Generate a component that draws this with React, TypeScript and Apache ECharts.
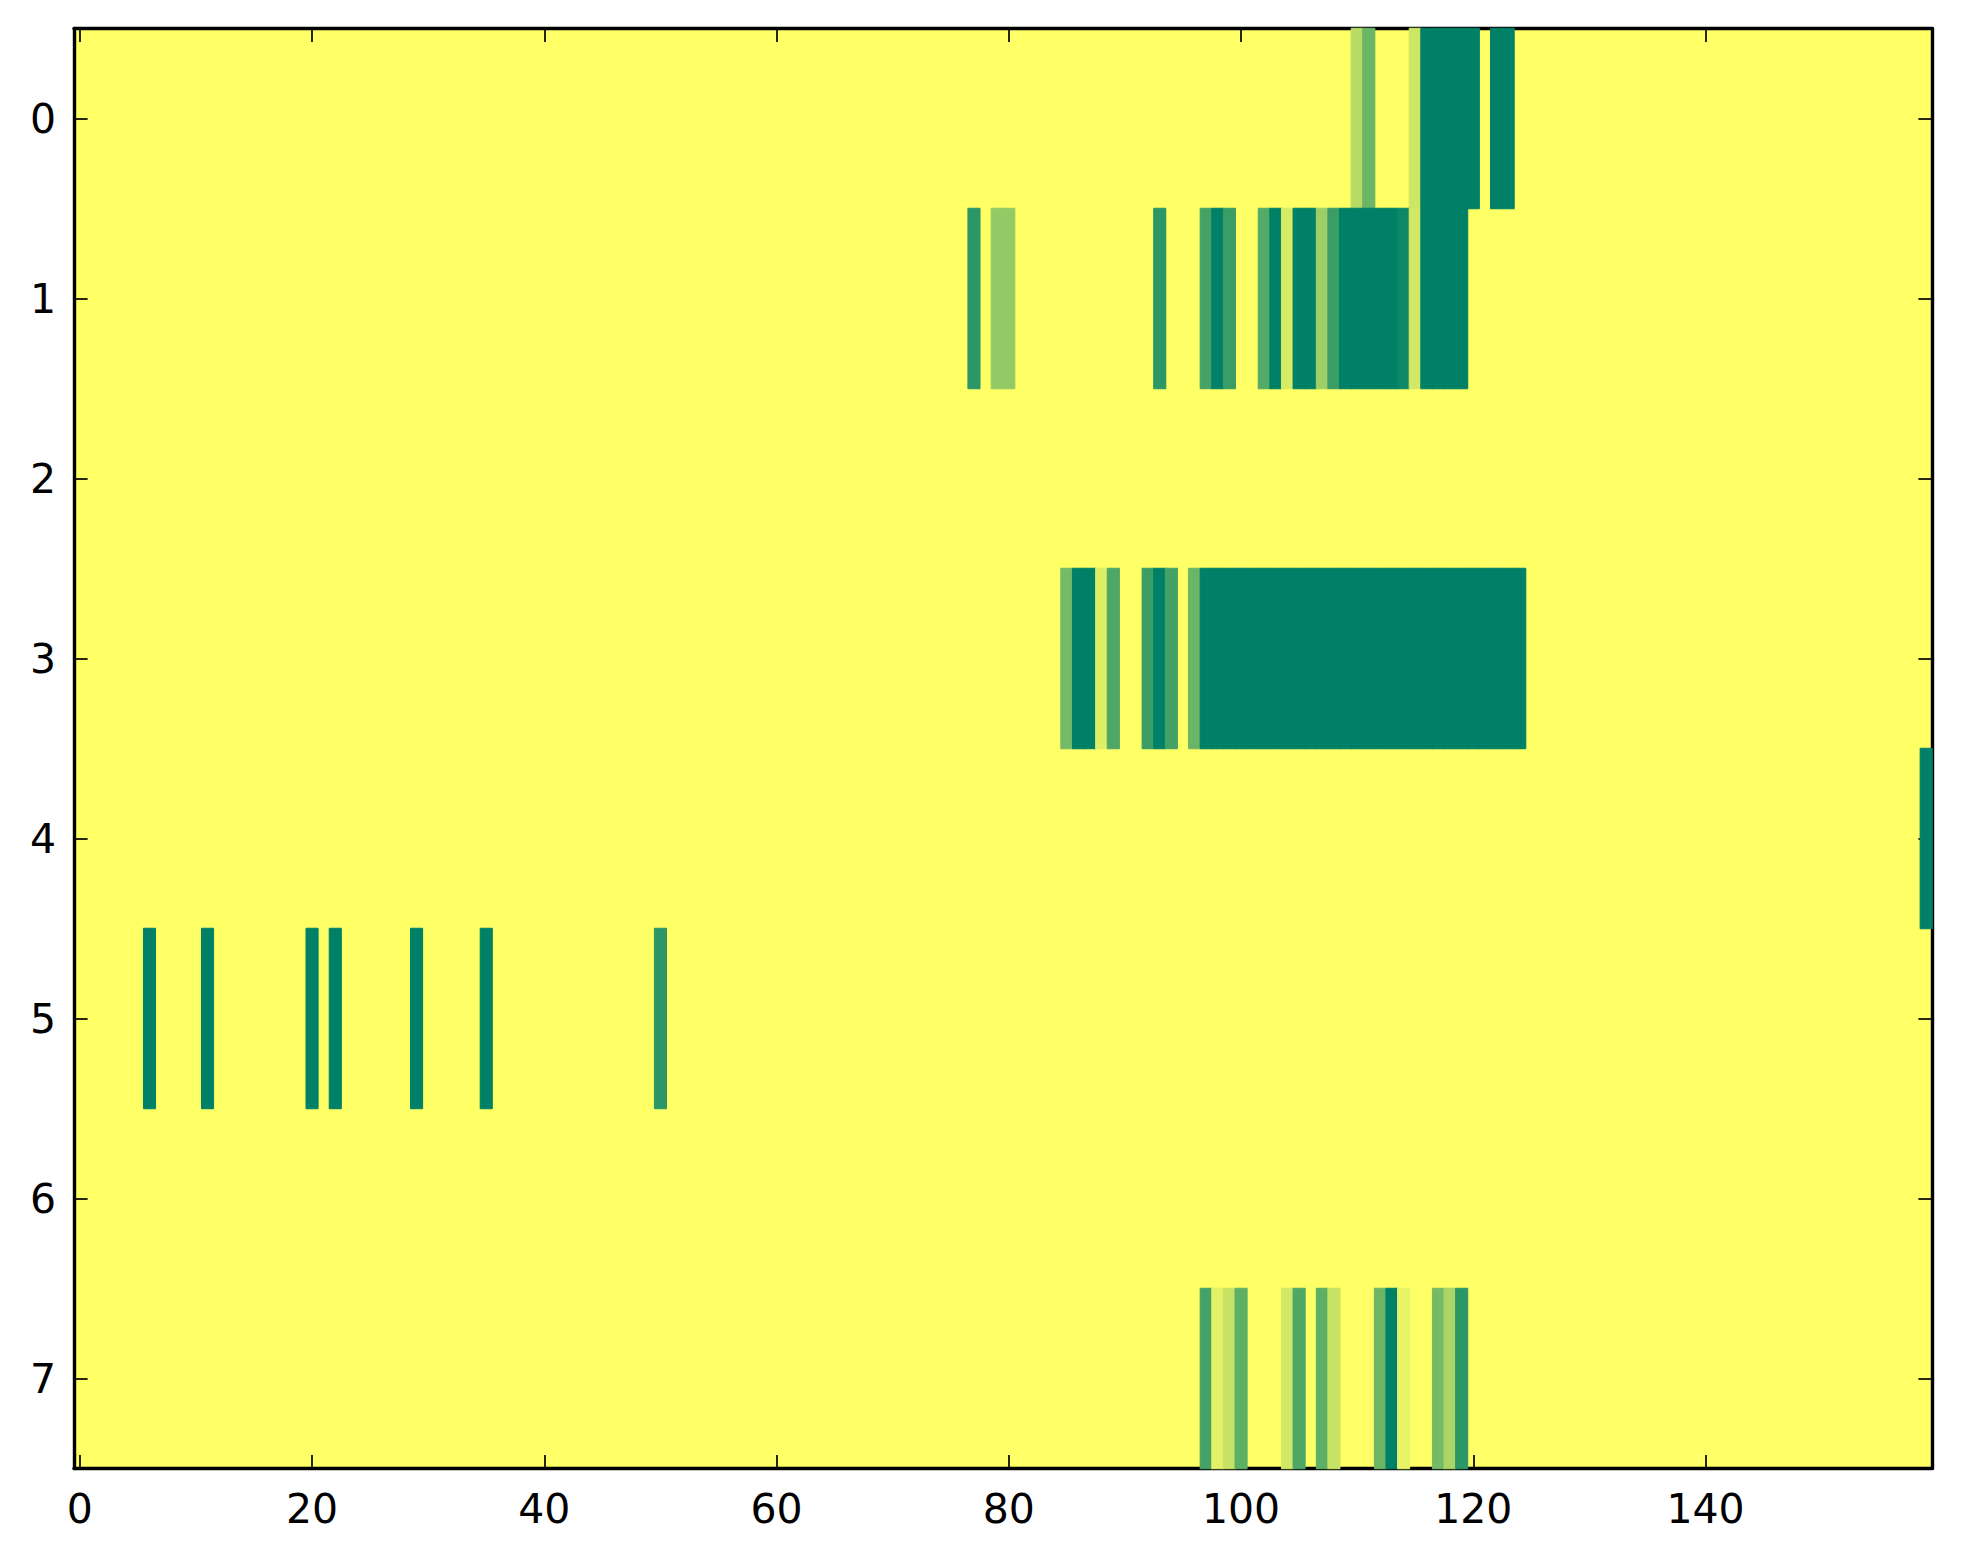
import { useEffect, useRef } from "react";
import * as echarts from "echarts";

// column and row categories of the image
const columns = Array.from({ length: 160 }, (_, i) => String(i));
const rowLabels = ["0", "1", "2", "3", "4", "5", "6", "7"];
const xTicks = [0, 20, 40, 60, 80, 100, 120, 140];

// non-zero cells per row as [column, value]; everything else is 0
const row0: [number, number][] = [
  [110, 0.28], [111, 0.58], [115, 0.2],
  [116, 1], [117, 1], [118, 1], [119, 1], [120, 1],
  [122, 1], [123, 1],
];
const row1: [number, number][] = [
  [77, 0.83], [79, 0.42], [80, 0.42], [93, 0.83],
  [97, 0.73], [98, 1], [99, 0.77], [102, 0.67], [103, 1], [104, 0.16],
  [105, 1], [106, 1], [107, 0.38], [108, 0.77],
  [109, 1], [110, 1], [111, 1], [112, 1], [113, 1], [114, 0.945], [115, 0.18],
  [116, 1], [117, 1], [118, 1], [119, 1],
];
const row2: [number, number][] = [];
const row3: [number, number][] = [
  [85, 0.54], [86, 1], [87, 1], [88, 0.13], [89, 0.69],
  [92, 0.77], [93, 1], [94, 0.73], [96, 0.58],
  [97, 1], [98, 1], [99, 1], [100, 1], [101, 1], [102, 1], [103, 1],
  [104, 1], [105, 1], [106, 1], [107, 1], [108, 1], [109, 1], [110, 1],
  [111, 1], [112, 1], [113, 1], [114, 1], [115, 1], [116, 1], [117, 1],
  [118, 1], [119, 1], [120, 1], [121, 1], [122, 1], [123, 1], [124, 1],
];
const row4: [number, number][] = [[159, 1]];
const row5: [number, number][] = [
  [6, 1], [11, 1], [20, 1], [22, 1], [29, 1], [35, 1], [50, 0.83],
];
const row6: [number, number][] = [];
const row7: [number, number][] = [
  [97, 0.73], [98, 0.11], [99, 0.22], [100, 0.63],
  [104, 0.18], [105, 0.69], [107, 0.63], [108, 0.22],
  [112, 0.58], [113, 1], [114, 0.09],
  [117, 0.54], [118, 0.33], [119, 0.83],
];

const rows = [row0, row1, row2, row3, row4, row5, row6, row7];

// summer_r: yellow at 0, green at 1
const ramp = ["#ffff66", "#008066"];

const FONT = "DejaVu Sans";
const tickStyle = { color: "#000", width: 1.7 };
const lineStyle = { color: "#000", width: 3.4 };

function buildOption(): echarts.EChartsOption {
  const data: any[] = [];
  rows.forEach((cells, y) =>
    cells.forEach(([x, v]) =>
      // a hairline border in the cell's own colour hides seams between cells
      data.push({
        value: [x, y, v],
        itemStyle: { borderColor: echarts.color.lerp(v, ramp), borderWidth: 1 },
      })
    )
  );

  const showTick = (idx: number) => xTicks.includes(idx);

  return {
    animation: false,
    backgroundColor: "#fff",
    grid: {
      left: 66,
      top: 20.5,
      width: 1858,
      height: 1440,
      show: true,
      backgroundColor: ramp[0],
      borderWidth: 0,
    },
    visualMap: {
      show: false,
      min: 0,
      max: 1,
      inRange: { color: ramp },
    },
    xAxis: [
      {
        type: "category",
        data: columns,
        position: "bottom",
        axisLine: { show: true, lineStyle },
        axisTick: { show: true, inside: true, alignWithLabel: true, interval: showTick, length: 13.6, lineStyle: tickStyle },
        axisLabel: { interval: showTick, color: "#000", fontFamily: FONT, fontSize: 41, margin: 20 },
        splitLine: { show: false },
      },
      {
        type: "category",
        data: columns,
        position: "top",
        axisLine: { show: true, lineStyle },
        axisTick: { show: true, inside: true, alignWithLabel: true, interval: showTick, length: 13.6, lineStyle: tickStyle },
        axisLabel: { show: false },
        splitLine: { show: false },
      },
    ],
    yAxis: [
      {
        type: "category",
        data: rowLabels,
        inverse: true,
        position: "left",
        axisLine: { show: true, lineStyle },
        axisTick: { show: true, inside: true, alignWithLabel: true, interval: 0, length: 13.6, lineStyle: tickStyle },
        axisLabel: { interval: 0, color: "#000", fontFamily: FONT, fontSize: 41, margin: 18 },
        splitLine: { show: false },
      },
      {
        type: "category",
        data: rowLabels,
        inverse: true,
        position: "right",
        axisLine: { show: true, lineStyle },
        axisTick: { show: true, inside: true, alignWithLabel: true, interval: 0, length: 13.6, lineStyle: tickStyle },
        axisLabel: { show: false },
        splitLine: { show: false },
      },
    ],
    series: [
      {
        type: "heatmap",
        xAxisIndex: 0,
        yAxisIndex: 0,
        data,
        progressive: 0,
        emphasis: { disabled: true },
        z: 1,
      },
    ],
  };
}

export default function App() {
  const ref = useRef<HTMLDivElement>(null);

  useEffect(() => {
    if (!ref.current) return;
    const chart = echarts.init(ref.current, undefined, { renderer: "svg" });
    chart.setOption(buildOption());
    return () => chart.dispose();
  }, []);

  return <div ref={ref} style={{ width: 1947, height: 1548 }} />;
}
